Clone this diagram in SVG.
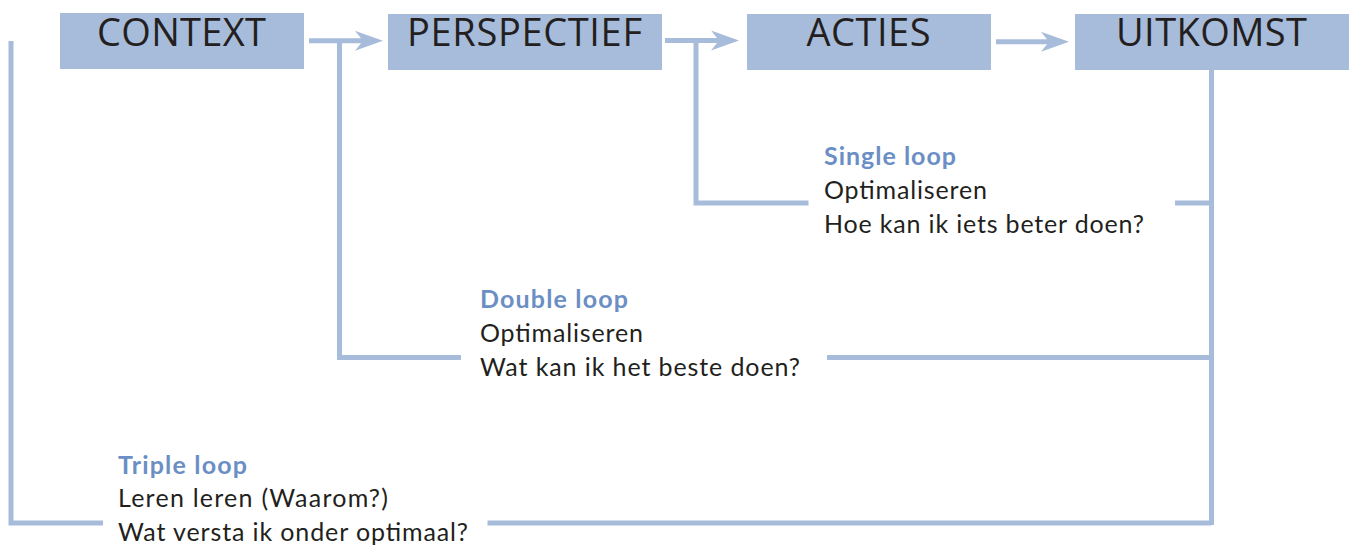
<svg xmlns="http://www.w3.org/2000/svg" width="1349" height="547" viewBox="0 0 1349 547">
  <style>
    .box { fill: #a7bcda; }
    .boxtxt { font-family: "Open Sans", "DejaVu Sans", sans-serif; font-size: 38px; fill: #231f20; text-anchor: middle; letter-spacing: 1px; }
    .conn { fill: none; stroke: #a7bcda; stroke-width: 5; }
    .head { font-family: Lato, "Liberation Sans", sans-serif; font-size: 25px; font-weight: bold; fill: #6b8fc4; }
    .body { font-family: Lato, "Liberation Sans", sans-serif; font-size: 25px; fill: #231f20; }
  </style>
  <defs>
    <marker id="arrow" markerUnits="userSpaceOnUse" markerWidth="28" markerHeight="20" viewBox="0 0 28 20" refX="8" refY="10" orient="auto">
      <path d="M0,0 L28,10 L0,20 L8,10 Z" fill="#a7bcda"/>
    </marker>
  </defs>

  <g id="connectors">
    <path class="conn" d="M309,40.8 H363" marker-end="url(#arrow)"/>
    <path class="conn" d="M665,40.5 H719" marker-end="url(#arrow)"/>
    <path class="conn" d="M996,41.8 H1049" marker-end="url(#arrow)"/>
    <!-- UITKOMST vertical -->
    <path class="conn" d="M1211.5,70 V525"/>
    <!-- single loop -->
    <path class="conn" d="M696,40.5 V203 H808.5"/>
    <path class="conn" d="M1175,203 H1211.5"/>
    <!-- double loop -->
    <path class="conn" d="M339.5,40.8 V357.5 H461"/>
    <path class="conn" d="M827,357.5 H1211.5"/>
    <!-- triple loop -->
    <path class="conn" d="M11,41 V523 H103"/>
    <path class="conn" d="M487.5,523 H1211.5"/>
  </g>

  <g id="context">
    <rect class="box" x="60" y="13" width="244" height="56"/>
    <text class="boxtxt" x="182" y="46" textLength="170">CONTEXT</text>
  </g>
  <g id="perspectief">
    <rect class="box" x="388" y="14" width="274" height="56"/>
    <text class="boxtxt" x="525" y="46" textLength="236">PERSPECTIEF</text>
  </g>
  <g id="acties">
    <rect class="box" x="747" y="14" width="244" height="56"/>
    <text class="boxtxt" x="869" y="46" textLength="125">ACTIES</text>
  </g>
  <g id="uitkomst">
    <rect class="box" x="1075" y="14" width="274" height="56"/>
    <text class="boxtxt" x="1212" y="46" textLength="192">UITKOMST</text>
  </g>

  <g id="single-loop">
    <text class="head" x="824" y="165" textLength="132">Single loop</text>
    <text class="body" x="824" y="199" textLength="163">Optimaliseren</text>
    <text class="body" x="824" y="233" textLength="320">Hoe kan ik iets beter doen?</text>
  </g>
  <g id="double-loop">
    <text class="head" x="480" y="308" textLength="148">Double loop</text>
    <text class="body" x="480" y="342" textLength="163">Optimaliseren</text>
    <text class="body" x="480" y="376" textLength="320">Wat kan ik het beste doen?</text>
  </g>
  <g id="triple-loop">
    <text class="head" x="118" y="474" textLength="129">Triple loop</text>
    <text class="body" x="118" y="507" textLength="270">Leren leren (Waarom?)</text>
    <text class="body" x="118" y="541" textLength="350">Wat versta ik onder optimaal?</text>
  </g>
</svg>
